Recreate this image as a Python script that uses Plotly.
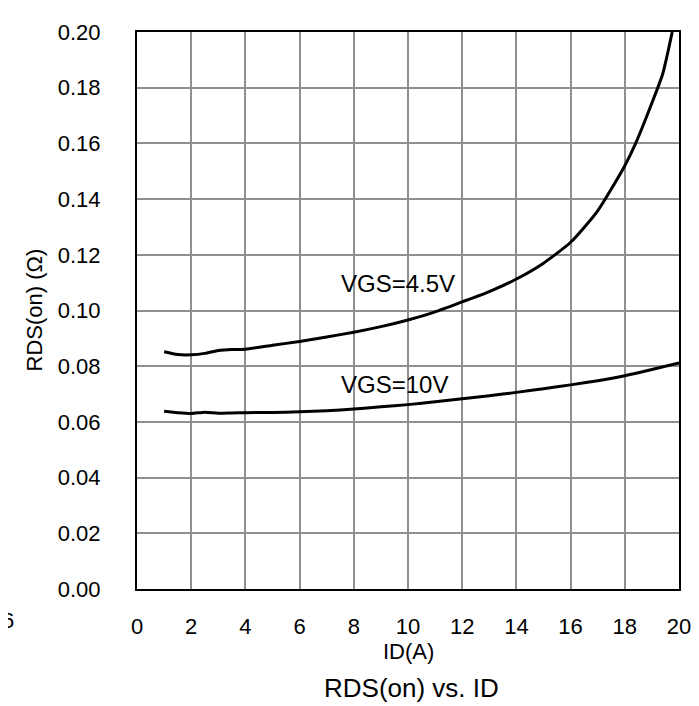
import plotly.graph_objects as go

# Data
id_45 = [1, 1.5, 2, 2.5, 3, 3.5, 4, 5, 6, 7, 8, 9, 10, 11, 12, 13, 14, 15, 16, 17, 18, 18.4, 19, 19.4, 19.75]
rds_45 = [0.0852, 0.0842, 0.0841, 0.0846, 0.0856, 0.0860, 0.0861, 0.0875, 0.0889, 0.0905, 0.0922, 0.0942,
          0.0966, 0.0995, 0.1031, 0.1068, 0.1113, 0.1170, 0.1245, 0.1358, 0.152, 0.160, 0.1745, 0.185, 0.200]

id_10 = [1, 1.5, 2, 2.5, 3, 3.5, 4, 5, 6, 7, 8, 9, 10, 11, 12, 13, 14, 15, 16, 17, 18, 19, 20]
rds_10 = [0.0638, 0.0633, 0.0630, 0.0635, 0.0631, 0.0632, 0.0633, 0.0634, 0.0636, 0.0640, 0.0646, 0.0654,
          0.0662, 0.0672, 0.0683, 0.0694, 0.0706, 0.0719, 0.0733, 0.0748, 0.0766, 0.0788, 0.0812]

x_ticks = list(range(0, 21, 2))
y_ticks = [0.00, 0.02, 0.04, 0.06, 0.08, 0.10, 0.12, 0.14, 0.16, 0.18, 0.20]
y_tick_labels = [f"{v:.2f}" for v in y_ticks]

FONT = "Liberation Sans, Arial, sans-serif"
W, H = 699, 706
L, R, T, B = 129, 28, 20, 125
pw, ph = W - L - R, H - T - B


def px(xp):
    return (xp - L) / pw


def py(yp):
    return (H - B - yp) / ph


fig = go.Figure()
for xs, ys in ((id_45, rds_45), (id_10, rds_10)):
    fig.add_trace(go.Scatter(x=xs, y=ys, mode="lines",
                             line=dict(color="black", width=3, shape="spline", smoothing=0.6),
                             showlegend=False, cliponaxis=True))

fig.update_layout(
    width=W, height=H,
    margin=dict(l=L, r=R, t=T, b=B),
    paper_bgcolor="white", plot_bgcolor="white",
    font=dict(family=FONT, size=22, color="black"),
    xaxis=dict(range=[0, 20], tickvals=x_ticks, ticktext=[str(v) for v in x_ticks],
               showgrid=True, gridcolor="#8f8f8f", gridwidth=1.5,
               showline=True, linecolor="black", linewidth=2, mirror=True,
               ticks="", ticklabelstandoff=17, zeroline=False,
               tickfont=dict(size=22)),
    yaxis=dict(range=[0, 0.20], tickvals=y_ticks, ticktext=y_tick_labels,
               showgrid=True, gridcolor="#8f8f8f", gridwidth=1.5,
               showline=True, linecolor="black", linewidth=2, mirror=True,
               ticks="", ticklabelstandoff=30, zeroline=False,
               tickfont=dict(size=22)),
)

annotations = [
    dict(x=7.44, y=0.1098, xref="x", yref="y", text="VGS=4.5V", showarrow=False,
         xanchor="left", yanchor="middle", font=dict(size=24)),
    dict(x=7.44, y=0.0734, xref="x", yref="y", text="VGS=10V", showarrow=False,
         xanchor="left", yanchor="middle", font=dict(size=24)),
    dict(x=0.5, y=py(644), xref="paper", yref="paper", text="ID(A)", showarrow=False,
         xanchor="center", yanchor="middle", font=dict(size=22)),
    dict(x=px(403), y=py(681), xref="paper", yref="paper", text="RDS(on) vs. ID", showarrow=False,
         xanchor="center", yanchor="middle", font=dict(size=26)),
    dict(x=px(26), y=0.5, xref="paper", yref="paper", text="RDS(on) (Ω)", showarrow=False,
         textangle=-90, xanchor="center", yanchor="middle", font=dict(size=22)),
    dict(x=px(8), y=py(613), xref="paper", yref="paper", text="6", showarrow=False,
         xanchor="right", yanchor="middle", font=dict(size=22)),
]
fig.update_layout(annotations=annotations)

fig.write_html("out.html")
